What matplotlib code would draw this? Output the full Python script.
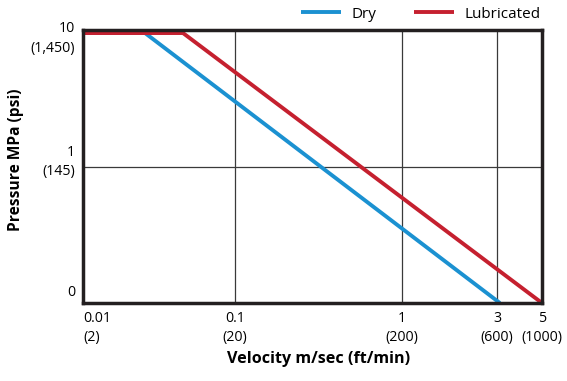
import numpy as np
import matplotlib
matplotlib.use("Agg")
import matplotlib.pyplot as plt
from matplotlib.ticker import NullLocator
from matplotlib.transforms import offset_copy

plt.rcParams["font.family"] = ["Open Sans", "DejaVu Sans"]

# data (velocity m/s, pressure MPa)
dry_velocity = [0.01, 0.0256, 3.1]
dry_pressure = [9.5, 9.5, 0.1]
lub_velocity = [0.01, 0.0455, 5.0]
lub_pressure = [9.5, 9.5, 0.1]

x_ticks = [0.01, 0.1, 1, 3, 5]
x_labels = ["0.01\n(2)", "0.1\n(20)", "1\n(200)", "3\n(600)", "5\n(1000)"]
y_ticks = [0.1, 1, 10]
y_labels = ["0", "1\n(145)", "10\n(1,450)"]

BLUE = "#1b91d1"
RED = "#c5202f"
DARK = "#231f20"

# the printed x axis is not a true log scale, so map decades piecewise
log_anchor = np.log10([0.01, 0.1, 1, 3, 5])
pos_anchor = np.array([83, 235, 402, 497, 542], dtype=float)


def fwd(x):
    x = np.clip(np.asarray(x, dtype=float), 1e-6, None)
    lx = np.log10(x)
    out = np.interp(lx, log_anchor, pos_anchor)
    out = np.where(lx < log_anchor[0],
                   pos_anchor[0] + (lx - log_anchor[0]) * 152, out)
    out = np.where(lx > log_anchor[-1],
                   pos_anchor[-1] + (lx - log_anchor[-1]) * 200, out)
    return out


def inv(p):
    p = np.asarray(p, dtype=float)
    out = np.interp(p, pos_anchor, log_anchor)
    out = np.where(p < pos_anchor[0],
                   log_anchor[0] + (p - pos_anchor[0]) / 152, out)
    out = np.where(p > pos_anchor[-1],
                   log_anchor[-1] + (p - pos_anchor[-1]) / 200, out)
    return 10 ** out


fig = plt.figure(figsize=(5.67, 3.81), dpi=100)
ax = fig.add_axes([83 / 567, 1 - 303 / 381, 459 / 567, 273 / 381])

ax.set_xscale("function", functions=(fwd, inv))
ax.set_yscale("log")
ax.set_xlim(0.01, 5)
ax.set_ylim(0.1, 10)

ax.plot(dry_velocity, dry_pressure, color=BLUE, lw=2.8, label="Dry",
        solid_capstyle="butt", zorder=3)
ax.plot(lub_velocity, lub_pressure, color=RED, lw=2.8, label="Lubricated",
        solid_capstyle="butt", zorder=3)

# ticks / grid
ax.set_xticks(x_ticks)
ax.set_xticklabels(x_labels, fontsize=10.2, linespacing=1.42)
ax.xaxis.set_minor_locator(NullLocator())
ax.set_yticks(y_ticks)
ax.set_yticklabels([])
ax.yaxis.set_minor_locator(NullLocator())
ax.tick_params(length=0, pad=5.5)
ax.get_xticklabels()[0].set_horizontalalignment("left")
ax.get_xticklabels()[0].set_multialignment("left")

ax.grid(True, color="#3a3a3a", lw=0.9, zorder=1)
ax.set_axisbelow(True)

# y labels, placed by hand because they sit at different offsets
y_shift = [11, 4.5, -8.5]  # pixels up
for val, lab, dy in zip(y_ticks, y_labels, y_shift):
    tr = offset_copy(ax.get_yaxis_transform(), fig=fig, x=-8, y=dy, units="dots")
    ax.text(0, val, lab, transform=tr, ha="right", va="center",
            fontsize=10.2, linespacing=1.42, multialignment="right")

for s in ax.spines.values():
    s.set_linewidth(2.5)
    s.set_color(DARK)
    s.set_zorder(4)

ax.set_xlabel("Velocity m/sec (ft/min)", fontsize=11.6, fontweight="bold",
              va="center")
ax.xaxis.set_label_coords((319 - 83) / 459, (303 - 359) / 273)
ax.set_ylabel("Pressure MPa (psi)", fontsize=11.2, fontweight="bold",
              va="center")
ax.yaxis.set_label_coords((16 - 83) / 459, (303 - 160) / 273)

fig.legend(loc="center right", bbox_to_anchor=(541 / 567, 1 - 14 / 381),
           ncol=2, frameon=False, fontsize=11, handlelength=2.6,
           handletextpad=0.7, columnspacing=2.5, borderpad=0,
           borderaxespad=0)

fig.savefig("out.png", dpi=100)
